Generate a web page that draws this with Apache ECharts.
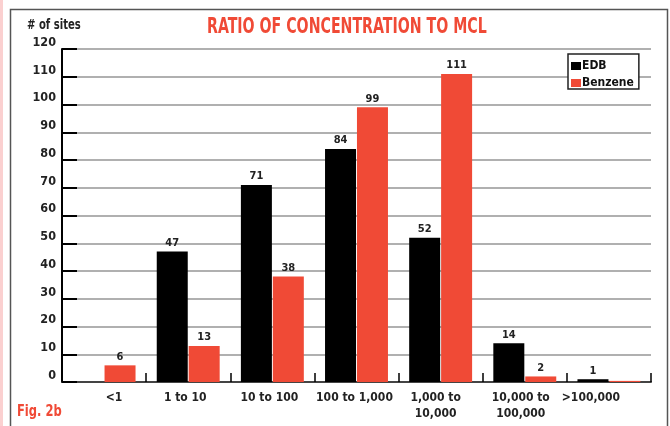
<!DOCTYPE html>
<html>
<head>
<meta charset="utf-8">
<script src="https://cdn.jsdelivr.net/npm/echarts@6/dist/echarts.min.js"></script>
<style>
html,body{margin:0;padding:0;background:#fff;}
#chart{width:670px;height:426px;}
</style>
</head>
<body>
<div id="chart"></div>
<script>
// ---- data ----
var categories = ['<1', '1 to 10', '10 to 100', '100 to 1,000', '1,000 to\n10,000', '10,000 to\n100,000', '>100,000'];
var edbValues = [0, 47, 71, 84, 52, 14, 1];
var benzeneValues = [6, 13, 38, 99, 111, 2, 0.4];
var seriesNames = ['EDB', 'Benzene'];
var yMin = 0, yMax = 120, yStep = 10;

// ---- styling ----
var FONT = "'Liberation Sans Narrow', 'DejaVu Sans Condensed', 'Arial Narrow', sans-serif";
var RED = '#f04a36';
var labelShift = [10, -3, -3, -2, -5, -4, -18];

var catData = categories.map(function (c, i) {
  var s = labelShift[i];
  return {
    value: c,
    textStyle: { padding: s >= 0 ? [0, 0, 0, 2 * s] : [0, -2 * s, 0, 0] }
  };
});

var chart = echarts.init(document.getElementById('chart'), null, { renderer: 'canvas' });

var barLabel = {
  show: true,
  position: 'top',
  distance: 3,
  fontFamily: FONT,
  fontWeight: 'bold',
  fontSize: 11,
  color: '#222',
  formatter: function (p) { return p.value >= 1 ? String(p.value) : ''; }
};

chart.setOption({
  animation: false,
  backgroundColor: '#fff',
  legend: {
    orient: 'vertical',
    left: 568,
    top: 54,
    padding: [6, 5, 0, 3],
    itemGap: 5,
    itemWidth: 10,
    itemHeight: 8,
    icon: 'rect',
    backgroundColor: '#fff',
    borderColor: '#222',
    borderWidth: 1.5,
    borderRadius: 0,
    data: seriesNames,
    textStyle: { fontFamily: FONT, fontWeight: 'bold', fontSize: 12, color: '#111', padding: [0, 0, 0, -4] }
  },
  grid: { left: 62, right: 19, top: 49, bottom: 44, containLabel: false },
  xAxis: {
    type: 'category',
    data: catData,
    axisLine: { show: true, lineStyle: { color: '#444', width: 2 } },
    axisTick: { show: true, inside: true, length: 9, lineStyle: { color: '#000', width: 1.5 } },
    axisLabel: {
      interval: 0,
      margin: 8,
      fontFamily: FONT,
      fontWeight: 'bold',
      fontSize: 12,
      lineHeight: 16,
      color: '#222'
    },
    splitLine: { show: false }
  },
  yAxis: {
    type: 'value',
    min: yMin,
    max: yMax,
    interval: yStep,
    axisLine: { show: true, lineStyle: { color: '#000', width: 2 } },
    axisTick: { show: true, inside: true, length: 15, lineStyle: { color: '#000', width: 2 } },
    axisLabel: {
      margin: 6,
      fontFamily: FONT,
      fontWeight: 'bold',
      fontSize: 12.5,
      lineHeight: 13,
      verticalAlign: 'bottom',
      color: '#222'
    },
    splitLine: { show: true, lineStyle: { color: '#b0b0b0', width: 2 } }
  },
  series: [
    {
      name: seriesNames[0],
      type: 'bar',
      data: edbValues,
      barWidth: 31,
      barGap: '3%',
      itemStyle: { color: '#000' },
      label: barLabel
    },
    {
      name: seriesNames[1],
      type: 'bar',
      data: benzeneValues,
      barWidth: 31,
      barGap: '3%',
      itemStyle: { color: RED },
      label: barLabel
    }
  ],
  graphic: [
    { type: 'rect', z: -10, shape: { x: 0, y: 0, width: 3, height: 426 }, style: { fill: '#fbd0d0' } },
    { type: 'rect', z: 100, shape: { x: 10.5, y: 9.5, width: 657, height: 440 }, style: { fill: 'none', stroke: '#555', lineWidth: 1.5 } },
    { type: 'text', z: 100, x: 207, y: 28, scaleX: 0.75, style: { x: 0, y: 0, text: 'RATIO OF CONCENTRATION TO MCL', verticalAlign: 'middle', fontFamily: FONT, fontWeight: 'bold', fontSize: 21, fill: RED } },
    { type: 'text', z: 100, x: 27, y: 25, scaleX: 0.8, style: { x: 0, y: 0, text: '# of sites', verticalAlign: 'middle', fontFamily: FONT, fontWeight: 'bold', fontSize: 14, fill: '#222' } },
    { type: 'text', z: 100, x: 17, y: 412, scaleX: 0.8, style: { x: 0, y: 0, text: 'Fig. 2b', verticalAlign: 'middle', fontFamily: FONT, fontWeight: 'bold', fontSize: 16, fill: RED } }
  ]
});
</script>
</body>
</html>
